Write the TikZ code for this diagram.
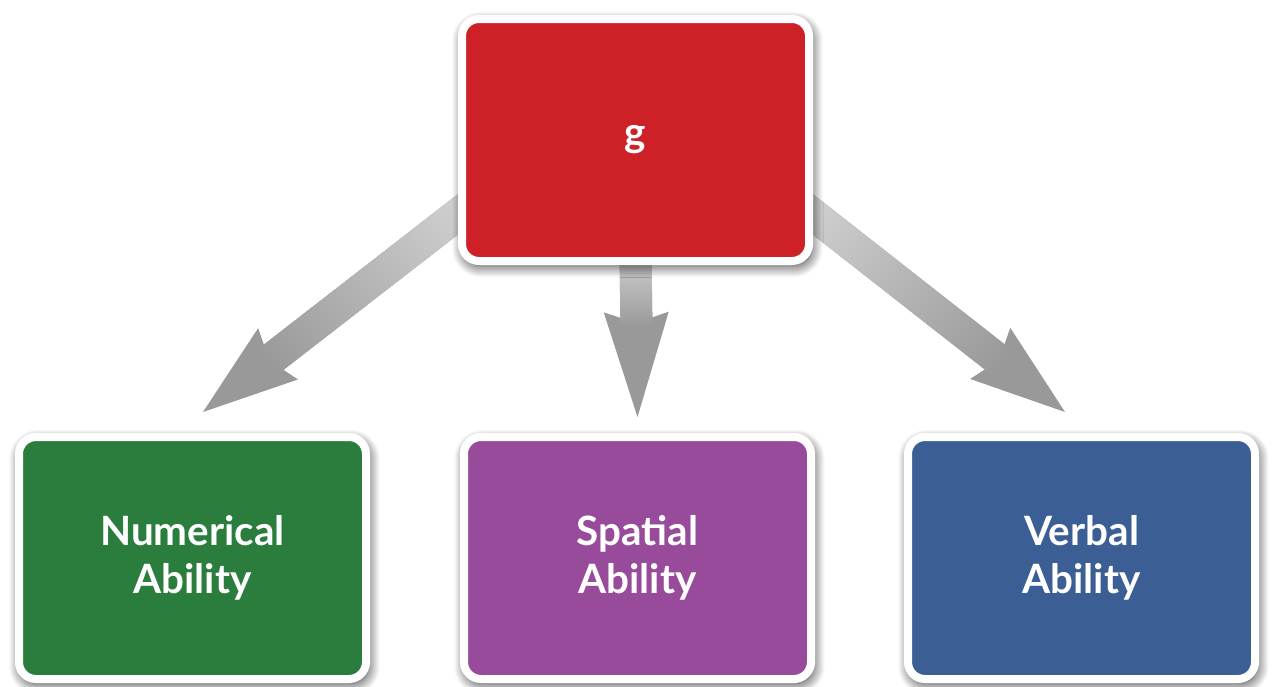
\documentclass[tikz,border=0pt]{standalone}
\usepackage{fontspec}
\setmainfont{Lato}
\usetikzlibrary{arrows.meta,shadows.blur,calc}
\definecolor{gred}{RGB}{206,32,39}
\definecolor{numgreen}{RGB}{42,125,60}
\definecolor{spapurple}{RGB}{151,75,154}
\definecolor{verblue}{RGB}{59,94,149}
\pgfdeclarelayer{background}
\pgfsetlayers{background,main}

\begin{document}
\begin{tikzpicture}
  [box/.style={rectangle,rounded corners=0.34cm,draw=white,line width=0.16cm,
     minimum width=6.94cm,minimum height=4.84cm,text=white,align=center,
     font=\bfseries\fontsize{23}{27.5}\selectfont,
     blur shadow={shadow xshift=0.4mm,shadow yshift=-0.9mm,shadow opacity=85,
       shadow blur radius=2.4mm,shadow blur steps=14}},
   bigarrow/.style={line width=0.64cm,draw=black!40,fill=black!40,
     -{Stealth[length=#1,width=1.3cm,inset=0.22cm,line width=0pt]}}]

  \useasboundingbox (0,0) rectangle (25.48,-13.74);

  \node[box,fill=gred] (g) at (12.71,-2.80) {g};
  \node[box,fill=numgreen] (num) at (3.85,-11.16) {Numerical\\Ability};
  \node[box,fill=spapurple] (spa) at (12.75,-11.16) {Spatial\\Ability};
  \node[box,fill=verblue] (ver) at (21.63,-11.16) {Verbal\\Ability};

  % arrow ends
  \coordinate (s1) at ([shift={(0.42,-1.16)}]g.west);
  \coordinate (t1) at ([shift={(0.21,0.42)}]num.north);
  \coordinate (s2) at ([yshift=0.3cm]g.south);
  \coordinate (t2) at ([yshift=0.32cm]spa.north);
  \coordinate (s3) at ([shift={(-0.42,-1.16)}]g.east);
  \coordinate (t3) at ([shift={(-0.33,0.42)}]ver.north);

  \begin{pgfonlayer}{background}
    \foreach \from/\to/\len in {s1/t1/1.9cm,s2/t2/2.1cm,s3/t3/1.9cm}{
      \draw[bigarrow=\len] (\from) -- (\to);
      % lighter shaft towards the g box
      \path let \p1=($(\to)-(\from)$) in
        \pgfextra{\pgfmathsetmacro\ang{atan2(\y1,\x1)}\pgfmathsetmacro\dist{veclen(\x1,\y1)}
          \xdef\arrang{\ang}\xdef\arrdist{\dist}};
      \begin{scope}[transform canvas={shift={(\from)},rotate=\arrang}]
        \shade[left color=black!17,right color=black!40]
          (0,-0.32) rectangle (\arrdist pt-\len+0.3cm,0.32);
      \end{scope}
    }
  \end{pgfonlayer}
\end{tikzpicture}
\end{document}
